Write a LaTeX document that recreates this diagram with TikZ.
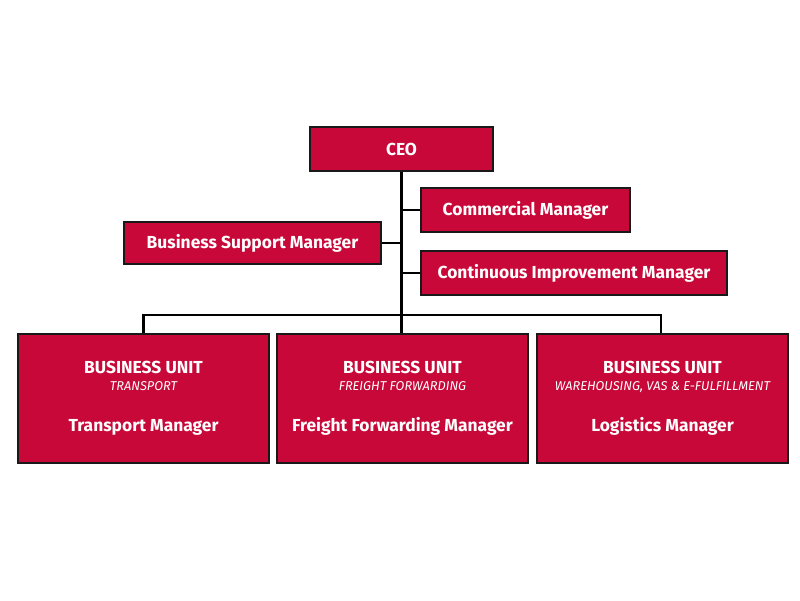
\documentclass[tikz,border=0pt]{standalone}
\usepackage{fontspec}
\setmainfont{Fira Sans}
\definecolor{boxred}{RGB}{200,8,56}
\definecolor{edge}{RGB}{25,25,25}
\begin{document}
\begin{tikzpicture}[x=1pt,y=-1pt,
  box/.style={draw=edge,line width=2pt,fill=boxred,text=white,font=\fontsize{17.4}{20}\selectfont\bfseries,inner sep=0pt,anchor=north west},
  unit/.style={box,align=center},
  link/.style={draw=black,line width=2.1pt}]
\useasboundingbox (0,0) rectangle (800,600);
\node[box,minimum width=183pt,minimum height=44pt] (ceo) at (309,126) {CEO};
\node[box,minimum width=209pt,minimum height=44pt] (com) at (420,187) {Commercial Manager};
\node[box,minimum width=257pt,minimum height=42pt] (bsm) at (123,221) {Business Support Manager};
\node[box,minimum width=306pt,minimum height=44pt] (cim) at (420,250) {Continuous Improvement Manager};
\node[unit,minimum width=251pt,minimum height=129pt] (u1) at (17,333) {BUSINESS UNIT\\[-3pt]{\fontsize{12.8}{14}\selectfont\mdseries\itshape TRANSPORT}\\[21pt]Transport Manager};
\node[unit,minimum width=251pt,minimum height=129pt] (u2) at (276,333) {BUSINESS UNIT\\[-3pt]{\fontsize{12.8}{14}\selectfont\mdseries\itshape FREIGHT FORWARDING}\\[21pt]Freight Forwarding Manager};
\node[unit,minimum width=251pt,minimum height=129pt] (u3) at (536,333) {BUSINESS UNIT\\[-3pt]{\fontsize{12.8}{14}\selectfont\mdseries\itshape WAREHOUSING, VAS \& E-FULFILLMENT}\\[21pt]Logistics Manager};
\coordinate (bar) at (400,315);
\draw[link] (ceo.south) -- (ceo.south |- u2.north);
\draw[link] (com.west) -- (com.west -| ceo.south);
\draw[link] (cim.west) -- (cim.west -| ceo.south);
\draw[link] (bsm.east) -- (bsm.east -| ceo.south);
\draw[link] (u1.north) -- (u1.north |- bar) -- ([xshift=-1.5pt]u3.north |- bar) -- ([xshift=-1.5pt]u3.north);
\end{tikzpicture}
\end{document}
